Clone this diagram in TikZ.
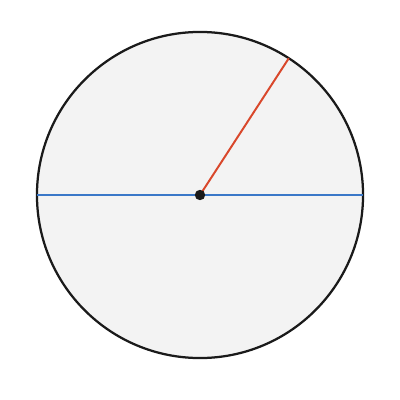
\documentclass[tikz,border=0pt]{standalone}
\definecolor{fillgray}{HTML}{F3F3F3}
\definecolor{edge}{HTML}{1A1A1A}
\definecolor{diamblue}{HTML}{3A78C8}
\definecolor{radred}{HTML}{D9472B}
\begin{document}
\begin{tikzpicture}[x=0.025cm,y=-0.025cm]
\useasboundingbox (0,0) rectangle (400,400);
\coordinate (O) at (200,195);
\draw[edge, fill=fillgray, line width=1.6pt] (O) circle[radius=4.075cm];
\draw[diamblue, line width=1.4pt] (O) ++(-4.075cm,0) coordinate (L) -- ++(8.15cm,0) coordinate (R);
\draw[radred, line width=1.4pt] (O) -- ++(57:4.075cm) coordinate (P);
\fill[edge] (O) circle[radius=0.13cm];
\end{tikzpicture}
\end{document}
